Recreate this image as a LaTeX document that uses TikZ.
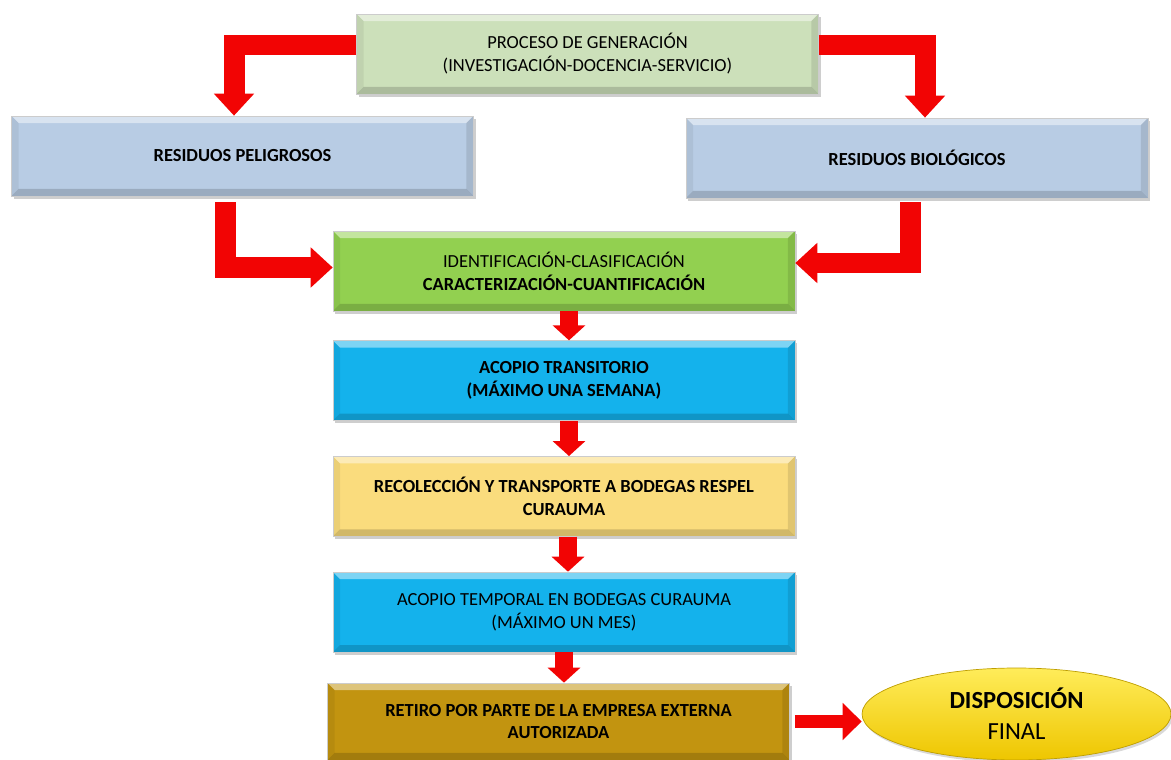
\documentclass[tikz,border=0pt]{standalone}
\usepackage{fontspec}
\setmainfont{Carlito}
\usepackage{xcolor}
\usepackage{tikz}
\usetikzlibrary{arrows.meta,positioning,shadows,shapes.geometric}

\definecolor{genfill}{RGB}{204,224,186}
\definecolor{resfill}{RGB}{184,204,228}
\definecolor{idenfill}{RGB}{146,208,80}
\definecolor{cyanfill}{RGB}{20,178,236}
\definecolor{recolfill}{RGB}{250,220,125}
\definecolor{retirofill}{RGB}{194,148,16}
\definecolor{finaltop}{RGB}{255,236,90}
\definecolor{finalbot}{RGB}{238,198,0}
\definecolor{arrowred}{RGB}{242,4,4}

\begin{document}
\begin{tikzpicture}[
      x=0.02cm, y=-0.02cm,
      bevel/.style={path picture={
        \fill[white, opacity=.45] (path picture bounding box.north west)
          -- (path picture bounding box.north east)
          -- ([shift={(-7,7)}]path picture bounding box.north east)
          -- ([shift={(7,7)}]path picture bounding box.north west) -- cycle;
        \fill[black, opacity=.16] (path picture bounding box.south west)
          -- (path picture bounding box.south east)
          -- ([shift={(-7,-7)}]path picture bounding box.south east)
          -- ([shift={(7,-7)}]path picture bounding box.south west) -- cycle;
        \fill[black, opacity=.06] (path picture bounding box.north west)
          -- ([shift={(7,7)}]path picture bounding box.north west)
          -- ([shift={(7,-7)}]path picture bounding box.south west)
          -- (path picture bounding box.south west) -- cycle;
        \fill[black, opacity=.10] (path picture bounding box.north east)
          -- ([shift={(-7,7)}]path picture bounding box.north east)
          -- ([shift={(-7,-7)}]path picture bounding box.south east)
          -- (path picture bounding box.south east) -- cycle;
      }},
      box/.style={rectangle, draw=black!20, thin, bevel,
        minimum width=9.24cm, minimum height=1.6cm, inner sep=2pt,
        align=center, font=\fontsize{10.5}{13}\selectfont,
        drop shadow={shadow xshift=1.2pt, shadow yshift=-1.6pt,
          opacity=.35, fill=black!55}},
      final/.style={ellipse, draw=finalbot!80!black, thin,
        top color=finaltop, bottom color=finalbot,
        minimum width=6.18cm, minimum height=1.84cm, inner sep=0pt,
        align=center, font=\fontsize{14}{17.5}\selectfont,
        drop shadow={shadow xshift=1pt, shadow yshift=-1.5pt,
          opacity=.3, fill=black!50}},
      elbow/.style={draw=arrowred, line width=0.42cm, line join=miter,
        -{Triangle[length=0.44cm, width=0.78cm]}},
      down/.style={draw=arrowred, line width=0.36cm,
        -{Triangle[length=0.3cm, width=0.64cm]}},
      side/.style={draw=arrowred, line width=0.26cm,
        -{Triangle[length=0.38cm, width=0.72cm]}}
    ]
    \useasboundingbox (0,0) rectangle (1171,760);

    \node[box, fill=genfill] (gen) at (587.5,54)
      {PROCESO DE GENERACIÓN\\(INVESTIGACIÓN-DOCENCIA-SERVICIO)};
    \node[box, fill=resfill] (pel) at (242.5,156)
      {\bfseries RESIDUOS PELIGROSOS};
    \node[box, fill=resfill] (bio) at (917,158)
      {\bfseries RESIDUOS BIOLÓGICOS};
    \node[box, fill=idenfill] (iden) at (564,271)
      {IDENTIFICACIÓN-CLASIFICACIÓN\\\textbf{CARACTERIZACIÓN-CUANTIFICACIÓN}};
    \node[box, fill=cyanfill, below=0.58cm of iden] (acopio)
      {\bfseries ACOPIO TRANSITORIO\\\bfseries (MÁXIMO UNA SEMANA)};
    \node[box, fill=recolfill, below=0.7cm of acopio] (recol)
      {\bfseries RECOLECCIÓN Y TRANSPORTE A BODEGAS RESPEL\\\bfseries CURAUMA};
    \node[box, fill=cyanfill, below=0.7cm of recol] (temp)
      {ACOPIO TEMPORAL EN BODEGAS CURAUMA\\(MÁXIMO UN MES)};
    \node[box, fill=retirofill, minimum height=1.54cm] (retiro) at (558.5,721.5)
      {\bfseries RETIRO POR PARTE DE LA EMPRESA EXTERNA\\\bfseries AUTORIZADA};
    \node[final] (fin) at (1016.5,714)
      {\textbf{DISPOSICIÓN}\\FINAL};

    \draw[elbow] ([yshift=0.18cm]gen.west) -| ([xshift=-0.17cm]pel.north);
    \draw[elbow] ([yshift=0.18cm]gen.east) -| ([xshift=0.16cm]bio.north);
    \draw[elbow] ([xshift=-0.35cm,yshift=-0.12cm]pel.south)
      |- ([yshift=0.07cm]iden.west);
    \draw[elbow] ([xshift=-0.14cm,yshift=-0.08cm]bio.south)
      |- ([yshift=0.16cm]iden.east);

    \draw[down] ([xshift=0.1cm]iden.south) -- ([xshift=0.1cm]acopio.north);
    \draw[down] ([xshift=0.1cm]acopio.south) -- ([xshift=0.1cm]recol.north);
    \draw[down] ([xshift=0.08cm]recol.south) -- ([xshift=0.08cm]temp.south |- temp.north);
    \draw[down] (temp.south) -- (temp.south |- retiro.north);
    \draw[side, shorten <=0.1cm] (retiro.east) -- (retiro.east -| fin.west);
  \end{tikzpicture}
\end{document}
